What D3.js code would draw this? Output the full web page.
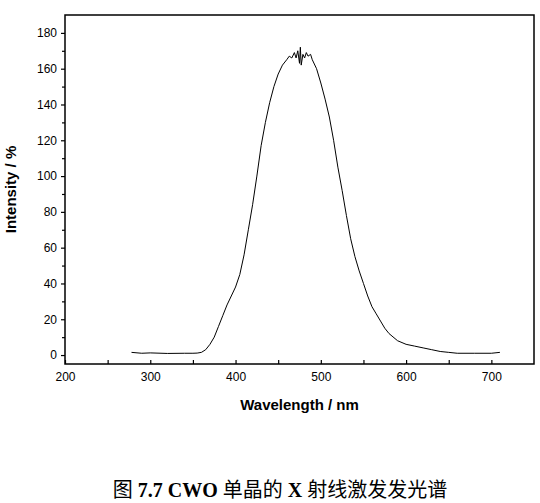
<!DOCTYPE html>
<html>
<head>
<meta charset="utf-8">
<style>
  body { margin:0; background:#fff; }
  text { font-family: Arial, "Liberation Sans", sans-serif; }
  text.cap { font-family: "Liberation Serif", "Noto Sans CJK SC", serif; }
</style>
</head>
<body>
<div id="chart"></div>
<script src="https://d3js.org/d3.v7.min.js"></script>
<script>
// spectrum
const wavelength = [278,290,300,320,340,350,355,360,365,370,375,380,385,390,395,400,405,410,415,420,425,430,435,440,445,450,455,460,463,466,469,471,473,475,476,477,479,481,483,485,488,490,495,500,505,510,515,520,525,530,535,540,545,550,555,560,565,570,575,580,590,600,610,620,630,640,650,660,680,700,710];
const intensity  = [1.5,1,1.2,0.9,1,1,1.1,1.5,3,6,10,16,22,28,33,38,45,56,70,84,100,117,130,141,150,157,162,165,167,166,169,166,170,163,172,162,168,166,169,167,168,165,160,152,143,133,120,105,92,78,65,55,47,40,33,27,23,19,15,12,8,6,5,4,3,2,1.5,1,1,1,1.5];
const xTicks = [200,300,400,500,600,700];
const yTicks = [0,20,40,60,80,100,120,140,160,180];

const W = 540, H = 503;
const m = {left:65, right:534, top:15, bottom:364};
const svg = d3.select("#chart").append("svg").attr("width", W).attr("height", H);

const x = d3.scaleLinear().domain([200,750]).range([m.left, m.right]);
const y = d3.scaleLinear().domain([-5,190]).range([m.bottom, m.top]);

svg.append("rect").attr("x", m.left).attr("y", m.top)
  .attr("width", m.right-m.left).attr("height", m.bottom-m.top)
  .attr("fill","none").attr("stroke","#000").attr("stroke-width",1.5);

// y axis: ticks outward
svg.append("g").attr("transform", `translate(${m.left},0)`)
  .call(d3.axisLeft(y).tickValues(yTicks).tickSize(4).tickPadding(4));
svg.append("g").attr("transform", `translate(${m.left},0)`)
  .call(d3.axisLeft(y).tickValues(d3.range(10,190,20)).tickSize(3).tickFormat(""));
// x axis: ticks inward
svg.append("g").attr("transform", `translate(0,${m.bottom})`)
  .call(d3.axisBottom(x).tickValues(xTicks).tickSize(-4).tickPadding(8));
svg.append("g").attr("transform", `translate(0,${m.bottom})`)
  .call(d3.axisBottom(x).tickValues(d3.range(250,750,100)).tickSize(-4).tickFormat(""));
svg.selectAll(".domain").remove();
svg.selectAll(".tick line").attr("stroke","#000").attr("stroke-width",1.2);
svg.selectAll(".tick text").attr("font-size",12).attr("fill","#000");

svg.append("path")
  .datum(wavelength.map((w,i)=>[w,intensity[i]]))
  .attr("fill","none").attr("stroke","#000").attr("stroke-width",1)
  .attr("d", d3.line().x(d=>x(d[0])).y(d=>y(d[1])));

svg.append("text").attr("x", (m.left+m.right)/2).attr("y", 410)
  .attr("text-anchor","middle").attr("font-size",15).attr("font-weight","bold")
  .text("Wavelength / nm");
svg.append("text").attr("transform", `translate(16,${(m.top+m.bottom)/2}) rotate(-90)`)
  .attr("text-anchor","middle").attr("font-size",15).attr("font-weight","bold")
  .text("Intensity / %");

const cap = svg.append("text").attr("class","cap").attr("x", 280).attr("y", 497)
  .attr("text-anchor","middle").attr("font-size",20);
cap.append("tspan").text("图 ");
cap.append("tspan").attr("font-weight","bold").text("7.7 CWO");
cap.append("tspan").text(" 单晶的 ");
cap.append("tspan").attr("font-weight","bold").text("X");
cap.append("tspan").text(" 射线激发发光谱");
</script>
</body>
</html>
